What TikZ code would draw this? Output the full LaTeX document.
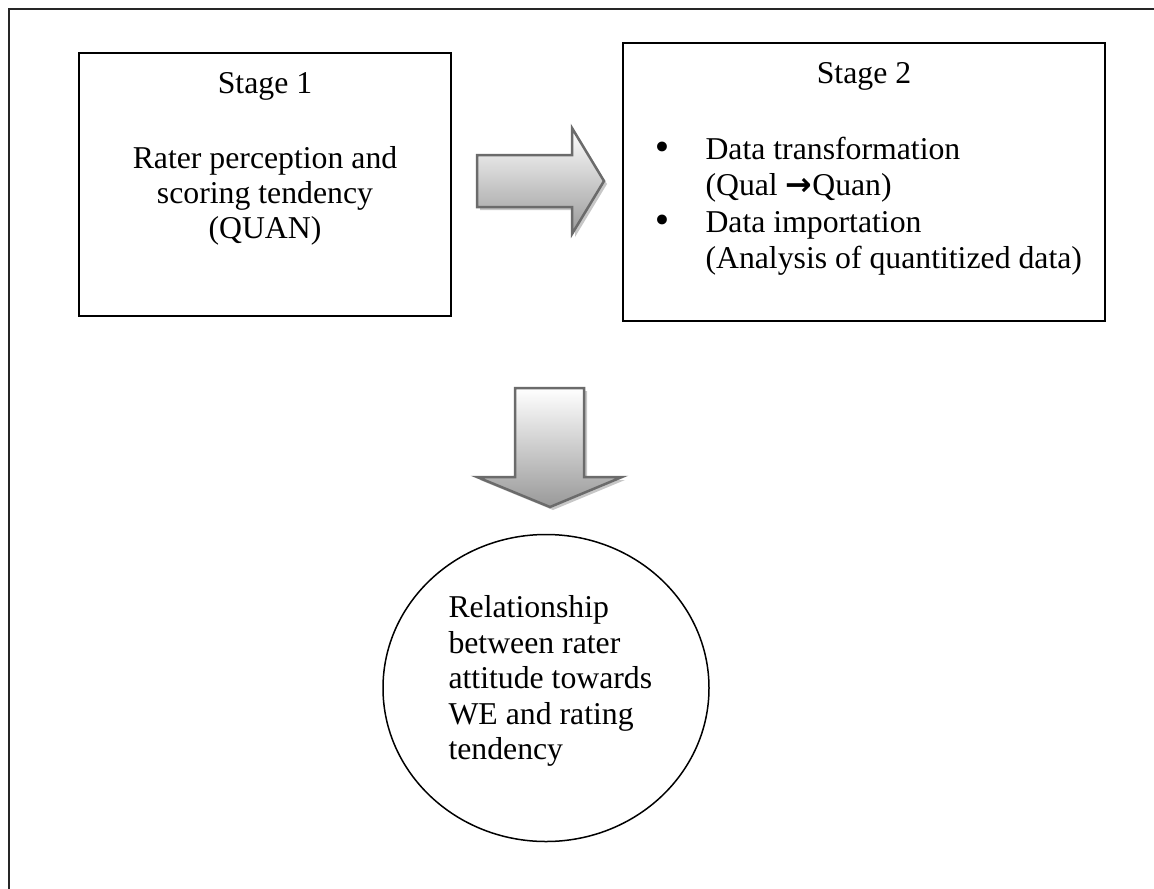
\documentclass[tikz,border=0pt]{standalone}
\usepackage{fontspec}
\setmainfont{Liberation Serif}
\newfontfamily\symbolfont{DejaVu Sans}
\usetikzlibrary{shapes.geometric}

\tikzset{
  txt/.style={anchor=base, inner sep=0pt},
  ltxt/.style={anchor=base west, inner sep=0pt},
  bulletmark/.style={anchor=base, inner sep=0pt, font=\symbolfont\fontsize{13.5}{14}\selectfont},
  stagebox/.style={draw=black, line width=0.8pt, inner sep=0pt},
  outcome/.style={ellipse, draw=black, line width=0.6pt, inner sep=0pt},
  framepen/.style={draw=black!85, line width=0.8pt},
  blockarrow/.style={draw=black!58, line width=1pt, line join=miter,
                     top color=white, bottom color=black!40},
  arrowshadow/.style={fill=black!22, draw=none},
  % block arrow pointing right
  rightblock/.pic={
    \path[pic actions] (477,155) -- (572,155) -- (572,128) -- (604,181)
      -- (572,234) -- (572,207) -- (477,207) -- cycle;
  },
  % block arrow pointing down
  downblock/.pic={
    \path[pic actions] (515,388) -- (584,388) -- (584,477) -- (622,477)
      -- (550,507) -- (477,477) -- (515,477) -- cycle;
  },
}

\begin{document}
\begin{tikzpicture}[x=0.4pt, y=-0.4pt,
  every node/.append style={font=\fontsize{12.7}{14.2}\selectfont}]
  \useasboundingbox (0,0) rectangle (1154,888);
  \clip (0,0) rectangle (1154,888);

  % page frame (runs off the right and bottom edges)
  \draw[framepen] (9,900) -- (9,9) -- (1170,9);

  % Stage 1
  \node[stagebox, minimum width=148.8pt, minimum height=105.2pt] (s1) at (265,184.5) {};
  \node[txt] (s1title) at (265,93) {Stage 1};
  \node[txt] (s1a) at (265,168) {Rater perception and};
  \node[txt] (s1b) at (265,203) {scoring tendency};
  \node[txt] (s1c) at (265,238) {(QUAN)};

  % Stage 2
  \node[stagebox, minimum width=192.8pt, minimum height=111.2pt] (s2) at (864,182) {};
  \node[txt] (s2title) at (864,83) {Stage 2};
  \node[bulletmark] (b1) at (662,159) {•};
  \node[ltxt] (s2a) at (705,159) {Data transformation};
  \node[ltxt] (s2b) at (705,195) {(Qual {\symbolfont\bfseries →}Quan)};
  \node[bulletmark] (b2) at (662,232) {•};
  \node[ltxt] (s2c) at (705,232) {Data importation};
  \node[ltxt] (s2d) at (705,268) {(Analysis of quantitized data)};

  % block arrows with drop shadows
  \pic[arrowshadow] at (3,3) {rightblock};
  \pic[blockarrow] at (0,0) {rightblock};
  \pic[arrowshadow] at (3,3) {downblock};
  \pic[blockarrow] at (0,0) {downblock};

  % outcome
  \node[outcome, minimum width=130.4pt, minimum height=122.8pt] (rel) at (546,688) {};
  \node[ltxt] (r1) at (448,617) {Relationship};
  \node[ltxt] (r2) at (448,653) {between rater};
  \node[ltxt] (r3) at (448,688) {attitude towards};
  \node[ltxt] (r4) at (448,724) {WE and rating};
  \node[ltxt] (r5) at (448,759) {tendency};
\end{tikzpicture}
\end{document}
